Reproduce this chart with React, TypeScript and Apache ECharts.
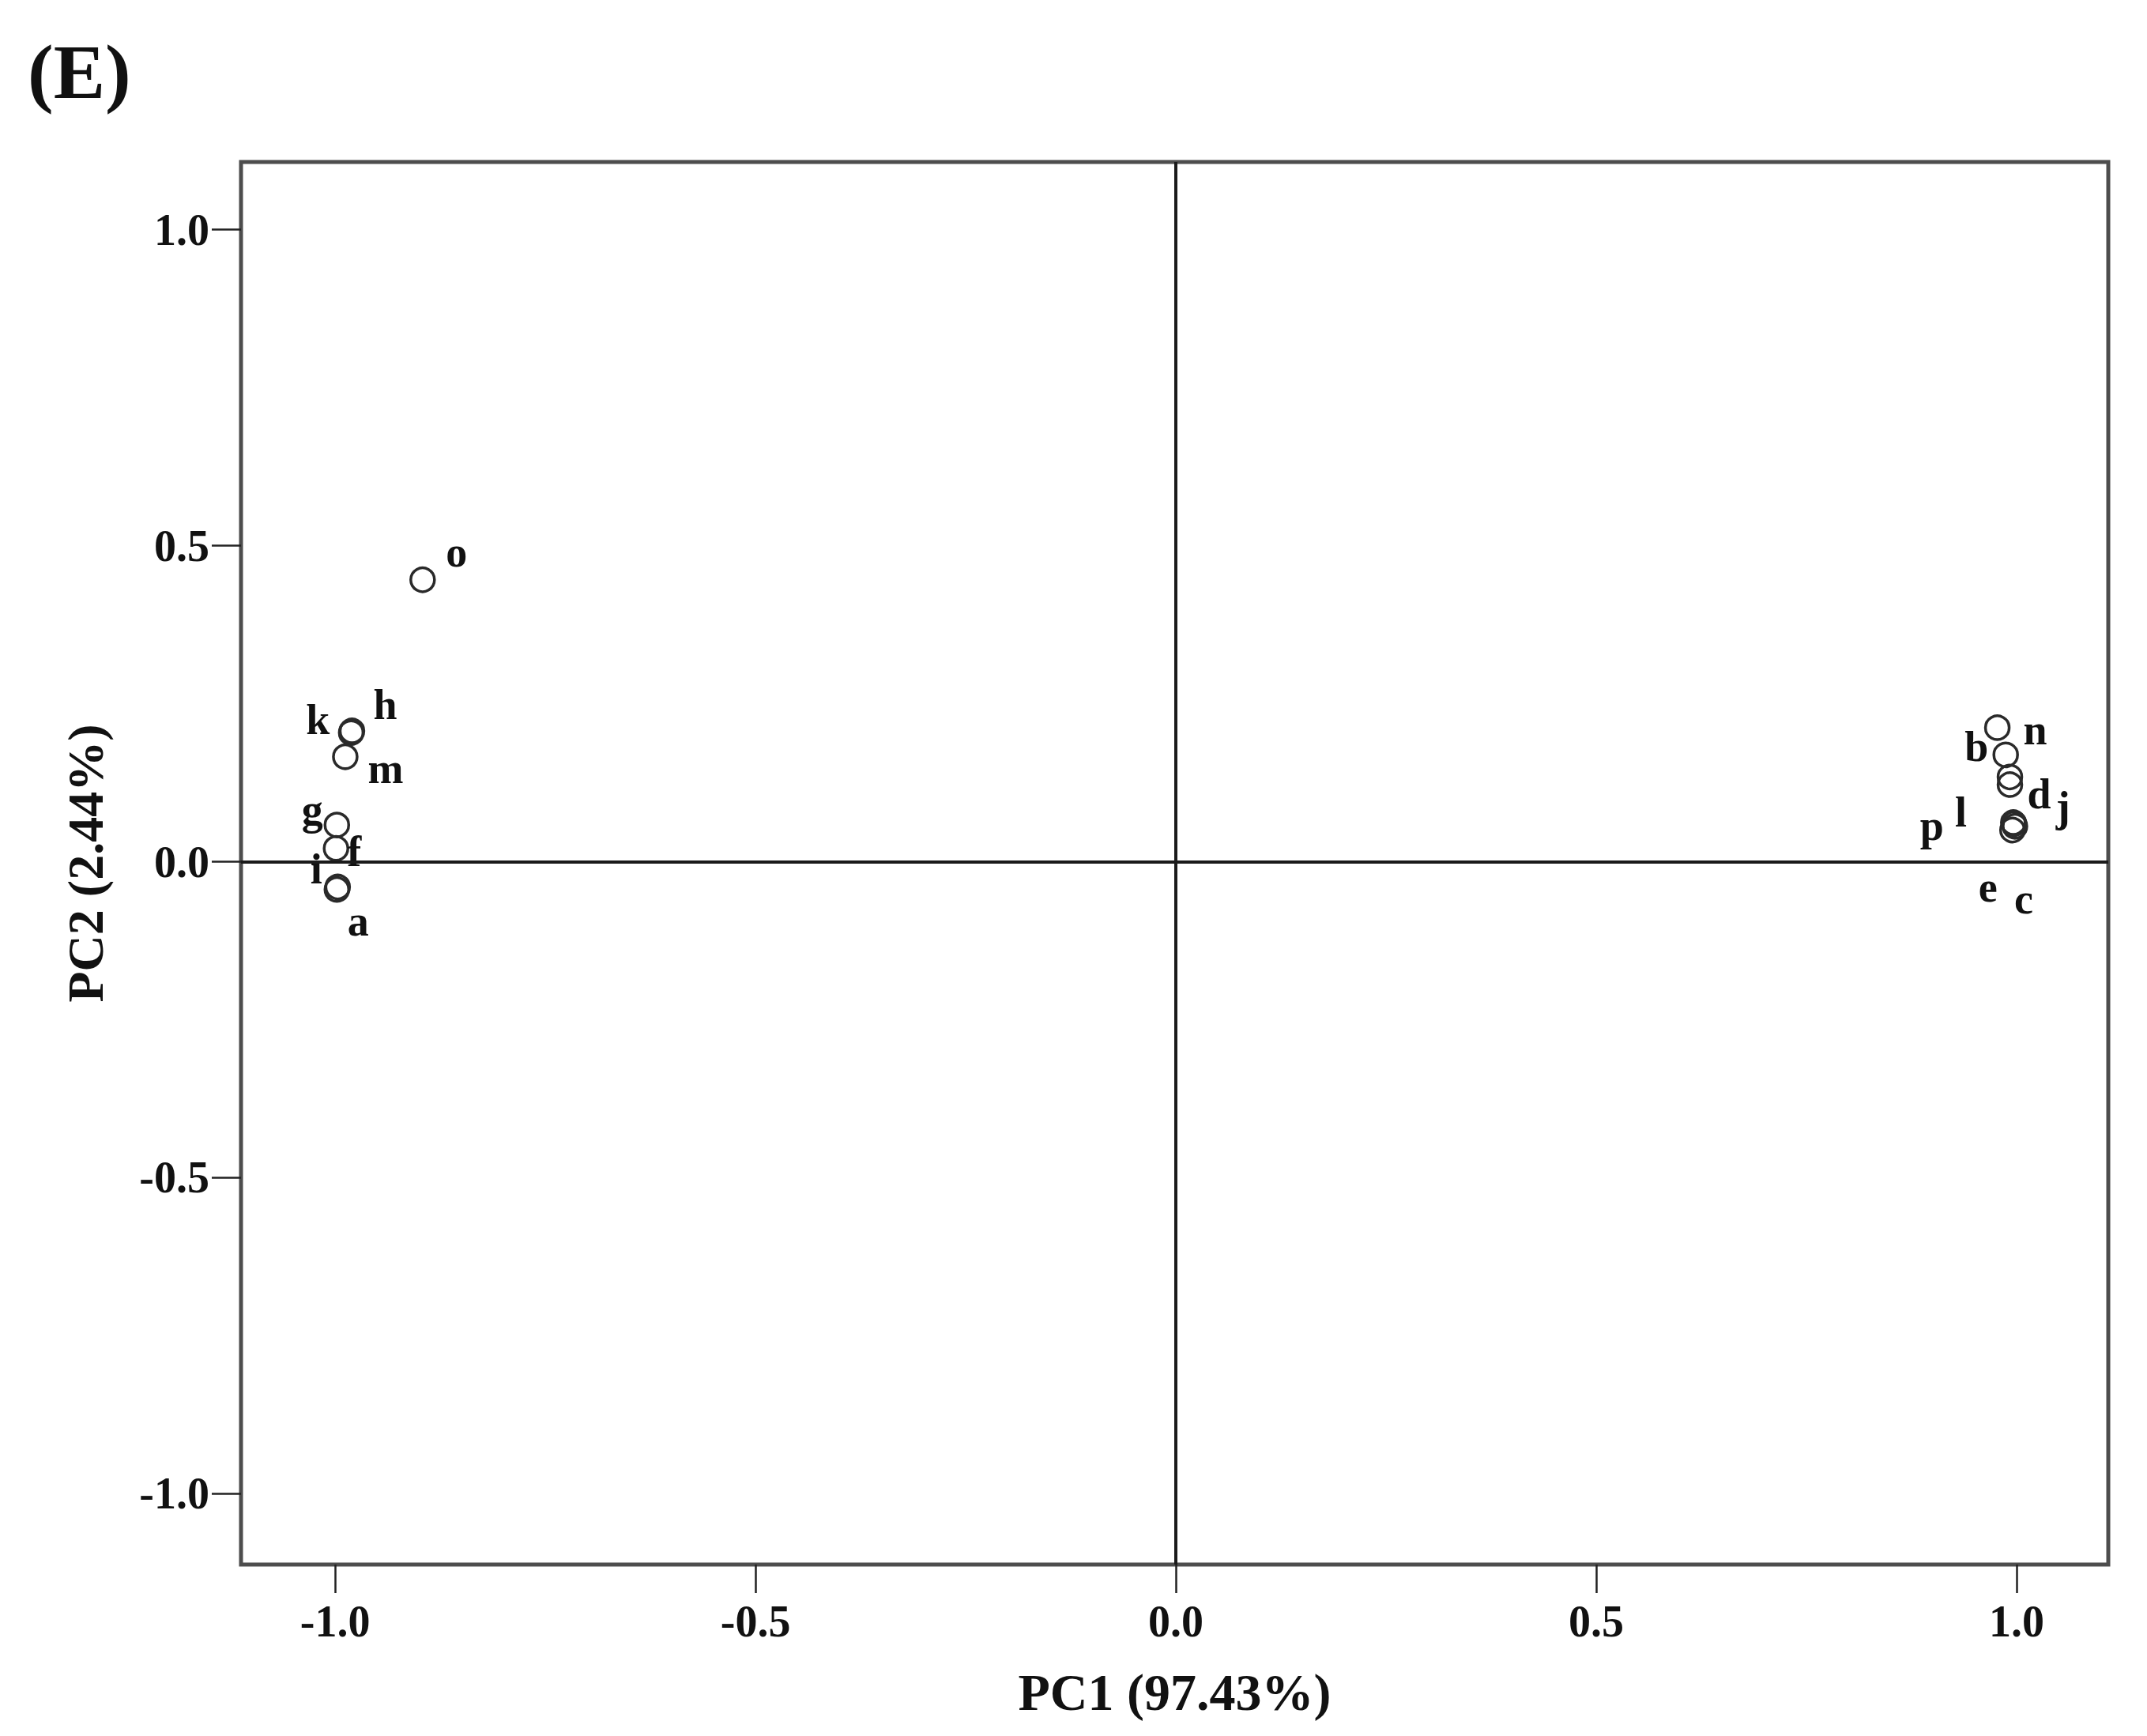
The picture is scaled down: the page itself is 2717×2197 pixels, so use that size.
import React, { useEffect, useRef } from 'react';
import * as echarts from 'echarts';

// ---- data ----
const sampleNames = ['a', 'b', 'c', 'd', 'e', 'f', 'g', 'h', 'i', 'j', 'k', 'l', 'm', 'n', 'o', 'p'];
const pc1Scores = [-0.997, 0.987, 0.998, 0.992, 0.995, -0.999, -0.998, -0.980, -0.998, 0.996, -0.981, 0.992, -0.988, 0.977, -0.896, 0.997];
const pc2Scores = [-0.040, 0.169, 0.056, 0.134, 0.050, 0.021, 0.058, 0.207, -0.044, 0.062, 0.204, 0.122, 0.166, 0.212, 0.446, 0.060];
const axisTickValues = [-1.0, -0.5, 0.0, 0.5, 1.0];
const xAxisTitle = 'PC1 (97.43%)';
const yAxisTitle = 'PC2 (2.44%)';
const panelTitle = '(E)';

// ---- label placement (style: pixel offset of each point label from its marker) ----
const labelOffsets: Record<string, [number, number]> = {
  a: [26, 44],
  b: [-37, -10],
  c: [11, 92],
  d: [37, 22],
  e: [-31, 72],
  f: [23, 4],
  g: [-31, -19],
  h: [42, -33],
  i: [-26, -26],
  j: [63, -20],
  k: [-42, -16],
  l: [-62, 35],
  m: [51, 15],
  n: [48, 3],
  o: [43, -35],
  p: [-104, 2],
};

const FONT = "'Liberation Serif', 'Times New Roman', serif";

export default function App() {
  const ref = useRef<HTMLDivElement>(null);

  useEffect(() => {
    if (!ref.current) return;
    const chart = echarts.init(ref.current, undefined, { renderer: 'svg' });

    const points = sampleNames.map((name, i) => ({
      name,
      value: [pc1Scores[i], pc2Scores[i]],
      label: { offset: labelOffsets[name] || [0, 0] },
    }));

    const tickLabelStyle = {
      fontFamily: FONT,
      fontWeight: 'bold' as const,
      fontSize: 56,
      color: '#111',
    };

    chart.setOption({
      animation: false,
      backgroundColor: '#ffffff',
      title: {
        text: panelTitle,
        left: 35,
        top: 42,
        padding: 0,
        textStyle: { fontFamily: FONT, fontWeight: 'bold', fontSize: 98, color: '#111' },
      },
      grid: {
        left: 305,
        top: 205,
        width: 2363,
        height: 1775,
        show: true,
        borderColor: '#4d4d4d',
        borderWidth: 5,
        backgroundColor: 'transparent',
        containLabel: false,
        outerBoundsMode: 'none',
      },
      xAxis: {
        type: 'value',
        min: -1.112,
        max: 1.109,
        name: xAxisTitle,
        nameLocation: 'middle',
        nameGap: 128,
        nameTextStyle: { fontFamily: FONT, fontWeight: 'bold', fontSize: 66, color: '#111' },
        axisLine: { show: false, onZero: false },
        splitLine: { show: false },
        axisTick: {
          show: true,
          inside: false,
          length: 36,
          customValues: axisTickValues,
          lineStyle: { color: '#222', width: 2.5 },
        },
        axisLabel: {
          ...tickLabelStyle,
          margin: 44,
          customValues: axisTickValues,
          formatter: (v: number) => v.toFixed(1),
        },
      },
      yAxis: {
        type: 'value',
        min: -1.112,
        max: 1.107,
        name: yAxisTitle,
        nameLocation: 'middle',
        nameGap: 165,
        nameTextStyle: { fontFamily: FONT, fontWeight: 'bold', fontSize: 64, color: '#111' },
        axisLine: { show: false, onZero: false },
        splitLine: { show: false },
        axisTick: {
          show: true,
          inside: false,
          length: 37,
          customValues: axisTickValues,
          lineStyle: { color: '#222', width: 2.5 },
        },
        axisLabel: {
          ...tickLabelStyle,
          margin: 40,
          customValues: axisTickValues,
          formatter: (v: number) => v.toFixed(1),
        },
      },
      series: [
        {
          type: 'scatter',
          symbol: 'circle',
          symbolSize: 30,
          itemStyle: { color: 'rgba(0,0,0,0)', borderColor: '#2a2a2a', borderWidth: 3.5, opacity: 1 },
          label: {
            show: true,
            position: 'inside',
            formatter: '{b}',
            fontFamily: FONT,
            fontWeight: 'bold',
            fontSize: 54,
            color: '#111',
            opacity: 1,
          },
          emphasis: { disabled: true },
          data: points,
          markLine: {
            silent: true,
            symbol: 'none',
            label: { show: false },
            lineStyle: { color: '#1a1a1a', width: 4, type: 'solid', opacity: 1 },
            data: [{ xAxis: 0 }, { yAxis: 0 }],
          },
        },
      ],
    });

    return () => chart.dispose();
  }, []);

  return (
    <div
      ref={ref}
      style={{ position: 'fixed', left: 0, top: 0, width: 2717, height: 2197, background: '#fff' }}
    />
  );
}
